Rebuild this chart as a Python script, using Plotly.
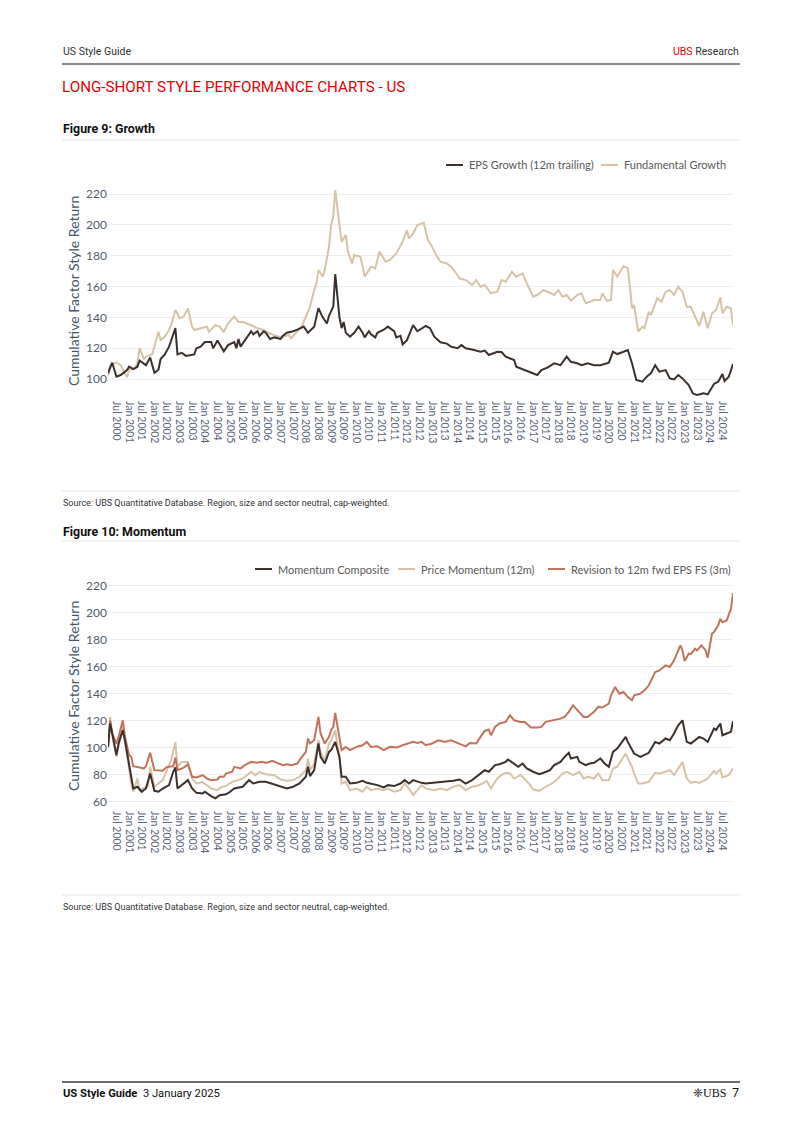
import plotly.graph_objects as go

# ---------------- data (month, value) ----------------
eps_growth = [("2000-03",103.7),("2000-05",110.6),("2000-07",101.5),("2000-09",102.6),("2000-12",105.8),("2001-01",108),("2001-03",106.5),("2001-05",108),("2001-06",112),("2001-09",109),("2001-11",114),("2002-01",104),("2002-03",106),("2002-04",113),("2002-06",116),("2002-08",121),("2002-11",133),("2002-12",116),("2003-02",117),("2003-04",115),("2003-08",116),("2003-09",120),("2003-11",121),("2004-01",124),("2004-04",124),("2004-05",120),("2004-07",125),("2004-10",118),("2004-12",122),("2005-03",124),("2005-04",120),("2005-05",126),("2005-06",121),("2005-08",125),("2005-11",131),("2005-12",129),("2006-02",131),("2006-03",128),("2006-05",131),("2006-06",130),("2006-08",126),("2006-10",127),("2007-01",126),("2007-02",128),("2007-04",130),("2007-07",131),("2007-09",132),("2007-12",134),("2008-02",130),("2008-05",134),("2008-07",146),("2008-09",140),("2008-11",136),("2008-12",141),("2009-02",147),("2009-03",168),("2009-05",140),("2009-06",133),("2009-07",137),("2009-08",130),("2009-10",127.5),("2009-12",130),("2010-02",134),("2010-04",130),("2010-05",127),("2010-07",131),("2010-08",129),("2010-10",127),("2010-11",130),("2011-02",132),("2011-04",134),("2011-07",131),("2011-08",127),("2011-10",128),("2011-11",122.5),("2012-01",125),("2012-04",135),("2012-06",131),("2012-10",134.4),("2012-12",133),("2013-02",127.5),("2013-05",123.8),("2013-08",123),("2013-10",121),("2014-01",120),("2014-03",122),("2014-05",120),("2014-08",119.2),("2014-12",117.7),("2015-02",118.5),("2015-04",115.6),("2015-08",117.7),("2015-10",117.5),("2015-12",114.5),("2016-04",112.3),("2016-05",108),("2016-08",106.3),("2016-11",104.8),("2017-03",102.6),("2017-05",105.8),("2017-08",107.6),("2017-11",110.2),("2018-02",109),("2018-05",114.5),("2018-07",111.2),("2018-10",110.2),("2018-12",109),("2019-03",110.2),("2019-06",109),("2019-09",109),("2020-01",110.6),("2020-03",117.7),("2020-05",116.2),("2020-08",117.7),("2020-10",118.8),("2020-12",110.2),("2021-01",104.8),("2021-02",99.4),("2021-05",98.3),("2021-07",101.5),("2021-09",103.7),("2021-11",109),("2022-01",104.8),("2022-04",105.8),("2022-06",100.4),("2022-08",99.8),("2022-10",102.6),("2022-12",100.4),("2023-03",96.1),("2023-05",90.7),("2023-07",89.6),("2023-10",90.7),("2023-12",90),("2024-03",96.8),("2024-05",98.3),("2024-07",103.2),("2024-08",98.7),("2024-10",101.5),("2024-12",109.7)]

fundamental_growth = [("2000-03",102),("2000-04",109),("2000-07",110.6),("2000-09",109),("2000-11",103.7),("2000-12",101),("2001-01",106),("2001-04",107),("2001-05",111),("2001-06",120),("2001-08",113),("2001-09",114.5),("2001-11",115.6),("2001-12",116),("2002-03",130.7),("2002-04",125.3),("2002-06",127.5),("2002-08",131.8),("2002-09",135),("2002-11",144.8),("2003-01",139.4),("2003-03",140.5),("2003-05",145.8),("2003-07",134),("2003-08",131.8),("2003-11",132.9),("2004-02",134),("2004-03",130.7),("2004-06",135),("2004-08",134),("2004-10",130.7),("2004-12",136),("2005-03",140.5),("2005-05",137),("2005-07",137),("2005-10",135.5),("2005-12",134),("2006-02",133),("2006-05",131.8),("2006-07",130),("2006-10",128.5),("2006-12",127.5),("2007-02",127.5),("2007-05",128.5),("2007-06",126.4),("2007-09",130.7),("2007-11",134),("2008-01",140.5),("2008-03",146.9),("2008-05",157.7),("2008-06",162),("2008-07",170.7),("2008-09",166.4),("2008-10",170.7),("2008-12",185.8),("2009-01",199.9),("2009-02",205.3),("2009-03",222.6),("2009-05",201),("2009-06",189),("2009-08",193.4),("2009-09",182.6),("2009-11",175),("2009-12",180.4),("2010-03",179.3),("2010-05",166.4),("2010-08",172.9),("2010-10",171.8),("2010-12",182.6),("2011-03",176.1),("2011-05",177.2),("2011-08",181.5),("2011-11",189),("2012-01",196.6),("2012-02",191.2),("2012-04",194.5),("2012-06",199.9),("2012-09",201.4),("2012-11",190.1),("2013-01",185.8),("2013-03",180.4),("2013-05",176.1),("2013-08",175),("2013-10",172.9),("2014-01",167.5),("2014-02",165.3),("2014-05",164.2),("2014-08",161),("2014-10",164.2),("2014-12",159.9),("2015-02",161),("2015-05",155.6),("2015-08",156.6),("2015-10",164.2),("2015-12",163.1),("2016-03",169.6),("2016-05",166.4),("2016-08",168.5),("2016-10",162),("2017-01",153.4),("2017-03",154.5),("2017-06",157.7),("2017-08",156.6),("2017-11",154.5),("2018-01",157.7),("2018-03",153.4),("2018-05",154.5),("2018-07",150.8),("2018-10",154.5),("2018-12",155.6),("2019-02",149.1),("2019-04",150.2),("2019-06",151.2),("2019-09",151.2),("2019-10",155.6),("2019-12",150.8),("2020-02",151.2),("2020-03",170.7),("2020-05",166.4),("2020-08",173.3),("2020-10",171.8),("2020-11",159.9),("2020-12",145.8),("2021-01",148),("2021-03",130.7),("2021-05",134),("2021-06",133),("2021-08",143.7),("2021-09",141.5),("2021-12",152.3),("2022-02",150.2),("2022-04",156.6),("2022-06",157.7),("2022-08",154.5),("2022-10",159.9),("2022-12",156.6),("2023-02",146.9),("2023-04",146.9),("2023-06",140.5),("2023-08",134.4),("2023-10",143.7),("2023-12",132.9),("2024-02",142.6),("2024-04",144.8),("2024-06",153),("2024-07",142.6),("2024-09",146.9),("2024-11",145.8),("2024-12",135)]

momentum_composite = [("2000-03",100.6),("2000-04",117.9),("2000-05",110.5),("2000-07",94.5),("2000-08",103.1),("2000-10",112.9),("2000-11",105.5),("2001-01",88.3),("2001-02",78.5),("2001-03",69.8),("2001-05",71.1),("2001-07",67.4),("2001-09",69.8),("2001-11",80.9),("2002-01",68.1),("2002-03",67.4),("2002-05",69.8),("2002-08",72.3),("2002-10",82.2),("2002-11",85.4),("2002-12",69.8),("2003-03",73.5),("2003-05",76),("2003-07",69.8),("2003-09",66.6),("2003-12",66.2),("2004-01",67.4),("2004-04",64.2),("2004-06",62.5),("2004-08",64.9),("2004-11",65.5),("2005-01",67.4),("2005-03",69.8),("2005-07",71.1),("2005-10",76),("2005-12",73.5),("2006-03",74.8),("2006-06",74.8),("2006-10",73),("2007-01",71.1),("2007-04",69.8),("2007-07",71.1),("2007-10",73.5),("2008-01",78.5),("2008-02",85.9),("2008-03",79),("2008-05",83.4),("2008-07",103.1),("2008-08",93.2),("2008-10",88.3),("2008-12",96.9),("2009-01",98.2),("2009-03",104.3),("2009-05",93.2),("2009-06",78.5),("2009-08",78.5),("2009-10",73.5),("2010-01",74),("2010-04",75.5),("2010-06",74),("2010-08",73.5),("2010-11",72.3),("2011-02",70.6),("2011-04",72.3),("2011-07",71.6),("2011-10",73.5),("2011-12",76),("2012-02",73.5),("2012-04",76),("2012-06",74.8),("2012-08",74),("2012-10",73.5),("2013-02",74),("2013-05",74.8),("2013-08",74.8),("2013-11",75.5),("2014-02",76.5),("2014-05",73.5),("2014-08",76),("2014-10",78.5),("2015-01",82.2),("2015-02",83.4),("2015-04",82.2),("2015-07",87.1),("2015-09",87.8),("2015-12",89.5),("2016-01",91.3),("2016-04",88.3),("2016-06",85.9),("2016-08",88.3),("2016-10",84.6),("2017-01",82.2),("2017-04",80.4),("2017-07",82),("2017-09",83.4),("2017-11",87.1),("2018-02",89.5),("2018-04",93.2),("2018-06",96.2),("2018-07",92),("2018-10",93.2),("2018-11",89.5),("2019-02",87.1),("2019-04",88.3),("2019-06",88.8),("2019-09",92),("2019-11",88.3),("2020-01",85.9),("2020-03",96.9),("2020-05",99.4),("2020-07",103.6),("2020-09",108),("2020-10",104.3),("2020-12",98.2),("2021-01",95.7),("2021-04",93.2),("2021-06",94.5),("2021-08",96.2),("2021-11",104.3),("2022-01",103.1),("2022-04",106.8),("2022-06",105.5),("2022-08",110.5),("2022-10",116.6),("2022-12",120.3),("2023-02",104.3),("2023-04",103.1),("2023-06",105.5),("2023-08",108),("2023-10",106.8),("2023-12",104.3),("2024-03",114.2),("2024-04",113),("2024-06",117.9),("2024-07",109.2),("2024-09",110.5),("2024-11",111.7),("2024-12",119.6)]

price_momentum = [("2000-03",99.4),("2000-04",122.8),("2000-05",109.2),("2000-07",93.2),("2000-08",101.8),("2000-10",115.4),("2000-11",104.3),("2001-01",83.4),("2001-02",73.5),("2001-03",67.4),("2001-05",77.2),("2001-06",68.6),("2001-08",69.8),("2001-10",71.6),("2001-11",85.9),("2002-01",71.1),("2002-03",73.5),("2002-05",76),("2002-07",83.4),("2002-09",90.8),("2002-11",104.3),("2002-12",85.9),("2003-02",89.5),("2003-05",89.5),("2003-07",77.2),("2003-09",73.5),("2003-12",74.5),("2004-02",72.3),("2004-04",69.8),("2004-07",68.6),("2004-09",71),("2004-11",71.6),("2005-02",74.8),("2005-04",75.5),("2005-07",77.2),("2005-11",82.2),("2006-01",79.7),("2006-03",82),("2006-06",80.4),("2006-10",79.7),("2007-01",76.5),("2007-04",75.5),("2007-07",76),("2007-10",78.5),("2008-01",83.4),("2008-02",92),("2008-03",83.4),("2008-05",88.3),("2008-07",105.5),("2008-08",96.2),("2008-10",90.8),("2008-12",103.1),("2009-01",105.5),("2009-03",112.9),("2009-05",93.2),("2009-06",73.5),("2009-08",74.8),("2009-10",68.6),("2010-01",69.8),("2010-04",67.4),("2010-06",71.1),("2010-08",68.6),("2010-11",69.8),("2011-02",68.6),("2011-04",69.8),("2011-07",67.4),("2011-10",68.6),("2011-12",73.5),("2012-02",69.8),("2012-04",64.9),("2012-06",68.6),("2012-08",72.3),("2012-10",69.8),("2013-02",68.6),("2013-05",69.8),("2013-08",68.6),("2013-11",71.1),("2014-02",72.3),("2014-05",68.6),("2014-08",71.1),("2014-10",71.6),("2015-01",73.5),("2015-03",75.5),("2015-05",69.8),("2015-08",77.2),("2015-10",79.7),("2015-12",81.4),("2016-02",81),("2016-04",77.2),("2016-07",79.7),("2016-08",78.5),("2016-11",73.5),("2017-01",69.1),("2017-04",68.1),("2017-07",71.1),("2017-10",73.5),("2017-12",76),("2018-03",80.9),("2018-05",82.2),("2018-08",79.7),("2018-11",82.2),("2019-01",77.2),("2019-03",78.5),("2019-06",77.2),("2019-08",80.9),("2019-10",76),("2020-01",76),("2020-03",84.6),("2020-05",85.9),("2020-07",91.3),("2020-09",95.7),("2020-10",92),("2020-12",85.9),("2021-01",80.9),("2021-03",73.5),("2021-05",73.5),("2021-08",74.8),("2021-11",81.4),("2022-01",80.9),("2022-04",82.2),("2022-06",83.4),("2022-08",79.7),("2022-11",87.1),("2022-12",89.5),("2023-02",77.2),("2023-04",74),("2023-06",74.8),("2023-08",74),("2023-10",75.5),("2023-12",77.2),("2024-03",82.9),("2024-04",81),("2024-06",83.9),("2024-07",78),("2024-10",79.7),("2024-12",84.6)]

revision_eps = [("2000-03",100.6),("2000-04",120),("2000-05",110.5),("2000-07",103),("2000-08",108),("2000-10",120.3),("2000-11",108),("2001-01",94.5),("2001-02",93.2),("2001-03",86.3),("2001-05",85.8),("2001-08",84.6),("2001-09",86.3),("2001-11",96.2),("2002-01",83.4),("2002-03",82.9),("2002-05",82.9),("2002-07",85.8),("2002-10",86.3),("2002-11",92.7),("2002-12",83.4),("2003-02",84.6),("2003-04",86.3),("2003-05",87.8),("2003-07",78.5),("2003-09",78),("2003-12",79.7),("2004-02",77.2),("2004-04",76),("2004-07",76.5),("2004-08",78.5),("2004-10",78.5),("2004-11",80.9),("2005-02",82.2),("2005-03",85.8),("2005-06",84.6),("2005-08",87.1),("2005-11",89.5),("2006-02",88.8),("2006-04",89.5),("2006-06",88.8),("2006-09",90.3),("2006-11",88.8),("2007-02",87.1),("2007-04",87.8),("2007-06",87.1),("2007-09",88.3),("2007-10",90.8),("2008-01",96.9),("2008-02",106.8),("2008-03",103.1),("2008-05",105.5),("2008-07",122.8),("2008-08",110.5),("2008-10",103.1),("2008-12",108),("2009-01",112.9),("2009-02",115.4),("2009-03",125.7),("2009-05",105.5),("2009-06",98.2),("2009-08",100.6),("2009-10",98.2),("2010-01",100.6),("2010-04",101.8),("2010-06",104.3),("2010-08",100.6),("2010-11",101),("2011-02",98.2),("2011-05",100.6),("2011-08",100.1),("2011-11",101.8),("2012-02",103.1),("2012-04",104.3),("2012-06",103.5),("2012-08",104.3),("2012-10",101.8),("2013-01",103.1),("2013-04",105.5),("2013-07",104.3),("2013-10",105.5),("2014-01",103.5),("2014-05",101),("2014-07",103.5),("2014-10",103.1),("2014-12",108),("2015-02",112.4),("2015-04",113.4),("2015-05",109.2),("2015-07",115.4),("2015-09",117.9),("2015-12",119.1),("2016-02",124),("2016-04",120.3),("2016-07",119.1),("2016-09",119.1),("2016-12",114.9),("2017-03",114.9),("2017-05",115.4),("2017-07",119.1),("2017-11",120.3),("2018-02",121.5),("2018-04",122.8),("2018-06",126.5),("2018-08",131.4),("2018-11",126.5),("2019-01",122.8),("2019-03",122.8),("2019-06",126.5),("2019-08",130.2),("2019-10",129.7),("2020-01",132.6),("2020-02",138.8),("2020-04",144.9),("2020-06",140),("2020-08",141.2),("2020-10",137.5),("2020-12",135.1),("2021-01",138.8),("2021-04",140),("2021-06",142.5),("2021-08",146.2),("2021-11",156),("2022-01",157.2),("2022-04",160.9),("2022-06",159.7),("2022-08",164.6),("2022-11",175.7),("2022-12",172),("2023-01",164.1),("2023-03",169.6),("2023-04",169.2),("2023-06",173.3),("2023-07",172),("2023-09",175.7),("2023-11",172),("2023-12",166.6),("2024-02",184.3),("2024-03",185.6),("2024-05",190.5),("2024-06",195.4),("2024-07",192.9),("2024-09",194.2),("2024-11",202.8),("2024-12",214.4)]

tick_years = list(range(2000, 2025))
tick_dates, tick_labels = [], []
for yr in tick_years:
    if yr > 2000:
        tick_dates.append(f"{yr}-01-01"); tick_labels.append(f"Jan {yr}")
    tick_dates.append(f"{yr}-07-01"); tick_labels.append(f"Jul {yr}")

# ---------------- styling ----------------
W, H = 802, 1134
def px(x): return x / W
def py(y): return 1 - y / H

C_DARK = "#3b302c"
C_TAN = "#d6c3a6"
C_RUST = "#c2735c"
RED = "#e60000"
AXIS_TXT = "#4f5a6e"
CHART_FONT = "Lato, 'Open Sans', sans-serif"
DOC_FONT = "Roboto, 'Liberation Sans', sans-serif"

def series(pairs):
    return [d + "-01" for d, _ in pairs], [v for _, v in pairs]

fig = go.Figure()
for pairs, name, col, xa, ya in [
    (fundamental_growth, "Fundamental Growth", C_TAN, "x", "y"),
    (eps_growth, "EPS Growth (12m trailing)", C_DARK, "x", "y"),
    (price_momentum, "Price Momentum (12m)", C_TAN, "x2", "y2"),
    (revision_eps, "Revision to 12m fwd EPS FS (3m)", C_RUST, "x2", "y2"),
    (momentum_composite, "Momentum Composite", C_DARK, "x2", "y2"),
]:
    xs, ys = series(pairs)
    fig.add_trace(go.Scatter(x=xs, y=ys, mode="lines", name=name, xaxis=xa, yaxis=ya,
                             line=dict(color=col, width=2), showlegend=False))

xcommon = dict(type="date", range=["2000-03-01", "2024-12-01"], domain=[px(108), px(733)],
               tickmode="array", tickvals=tick_dates, ticktext=tick_labels, tickangle=90,
               showgrid=False, zeroline=False, showline=False, ticks="",
               tickfont=dict(family=CHART_FONT, size=10.5, color="#5a6478"))
ycommon = dict(showgrid=True, gridcolor="#eeeeee", gridwidth=1, zeroline=False, showline=False,
               ticks="", tick0=0, dtick=20, tickfont=dict(family=CHART_FONT, size=12, color=AXIS_TXT))

fig.update_layout(
    width=W, height=H, margin=dict(l=0, r=0, t=0, b=0),
    paper_bgcolor="white", plot_bgcolor="white",
    xaxis=dict(**xcommon, anchor="y"),
    yaxis=dict(**ycommon, domain=[py(400), py(180)], range=[86.4, 229.1], anchor="x"),
    xaxis2=dict(**xcommon, anchor="y2"),
    yaxis2=dict(**ycommon, domain=[py(810), py(575)], range=[53.9, 227.8], anchor="x2"),
    showlegend=False,
)

shapes = []
def hline(y, x0, x1, color, width):
    shapes.append(dict(type="line", xref="paper", yref="paper", x0=px(x0), x1=px(x1),
                       y0=py(y), y1=py(y), line=dict(color=color, width=width)))

hline(64, 62, 740, "#8a8a8a", 2)
hline(140, 62, 740, "#e3e3e3", 1)
hline(491, 62, 740, "#e3e3e3", 1)
hline(541, 62, 740, "#e3e3e3", 1)
hline(895, 62, 740, "#e3e3e3", 1)
hline(1082, 62, 740, "#3a3a3a", 1.5)

annotations = []
def text(x, y, s, size, color="#333333", family=DOC_FONT, xanchor="left", angle=0):
    annotations.append(dict(xref="paper", yref="paper", x=px(x), y=py(y), text=s, showarrow=False,
                            xanchor=xanchor, yanchor="middle", textangle=angle,
                            font=dict(size=size, color=color, family=family)))

text(61, 51, "US Style Guide", 10.5)
text(741, 51, f"<span style='color:{RED}'>UBS</span> Research", 10.5, xanchor="right")
text(60, 87, "LONG-SHORT STYLE PERFORMANCE CHARTS - US", 15.2, color=RED)
text(61, 128, "<b>Figure 9: Growth</b>", 12.4, color="#111111")
text(61, 503, "Source: UBS Quantitative Database. Region, size and sector neutral, cap-weighted.", 9)
text(61, 531, "<b>Figure 10: Momentum</b>", 12.4, color="#111111")
text(61, 907, "Source: UBS Quantitative Database. Region, size and sector neutral, cap-weighted.", 9)
text(61, 1093, "<b>US Style Guide</b>  3 January 2025", 11.2, color="#111111")
text(741, 1093, "<span style='font-family:Liberation Serif'>\u2748UBS</span>  7", 12, color="#111111", xanchor="right")

# y-axis titles
text(73, 291, "Cumulative Factor Style Return", 14, color="#44546a", family=CHART_FONT, xanchor="center", angle=-90)
text(73, 696, "Cumulative Factor Style Return", 14, color="#44546a", family=CHART_FONT, xanchor="center", angle=-90)

# legends
LEG_COL = "#595959"
def legend_item(x_line, y, label, col):
    shapes.append(dict(type="line", xref="paper", yref="paper", x0=px(x_line), x1=px(x_line + 17),
                       y0=py(y), y1=py(y), line=dict(color=col, width=2)))
    text(x_line + 21, y, label, 11, color=LEG_COL, family=CHART_FONT)

legend_item(446, 165, "EPS Growth (12m trailing)", C_DARK)
legend_item(601, 165, "Fundamental Growth", C_TAN)
legend_item(255, 569, "Momentum Composite", C_DARK)
legend_item(398, 569, "Price Momentum (12m)", C_TAN)
legend_item(548, 569, "Revision to 12m fwd EPS FS (3m)", C_RUST)

fig.update_layout(shapes=shapes, annotations=annotations)
fig.write_html("out.html")
